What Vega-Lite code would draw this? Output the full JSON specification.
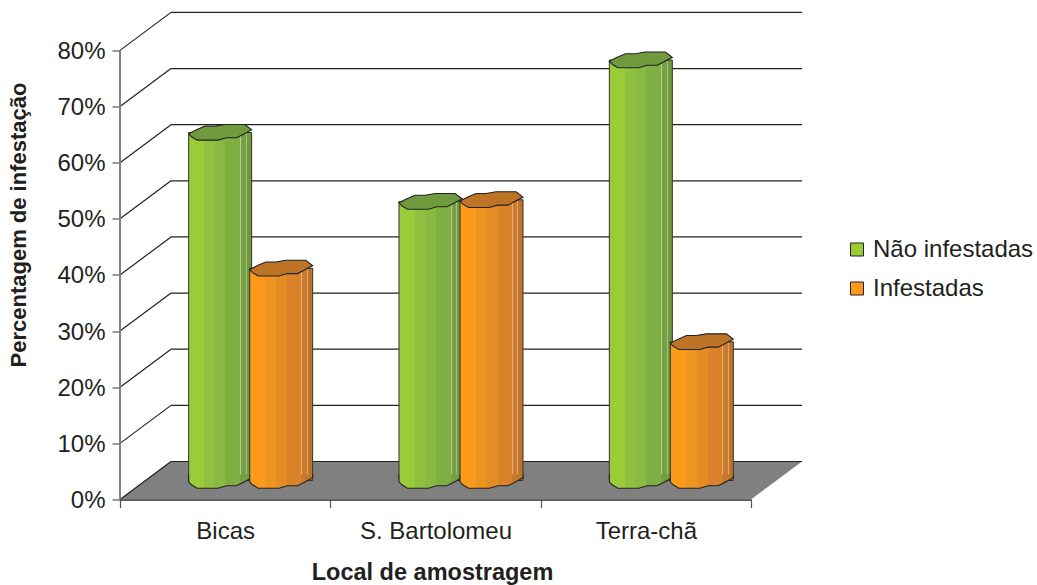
{
  "$schema": "https://vega.github.io/schema/vega-lite/v6.json",
  "width": 682,
  "height": 487,
  "autosize": {"type": "none"},
  "padding": {"left": 120, "top": 12.5, "right": 235, "bottom": 85.5},
  "background": "white",
  "config": {
    "view": {"stroke": null},
    "font": "Liberation Sans",
    "axis": {"labelFont": "Liberation Sans", "titleFont": "Liberation Sans", "labelColor": "#231f20", "titleColor": "#231f20", "grid": false}
  },
  "datasets": {
    "medicoes": [
      {"local": "Bicas", "serie": "Não infestadas", "valor": 62},
      {"local": "Bicas", "serie": "Infestadas", "valor": 37.8},
      {"local": "S. Bartolomeu", "serie": "Não infestadas", "valor": 49.7},
      {"local": "S. Bartolomeu", "serie": "Infestadas", "valor": 50},
      {"local": "Terra-chã", "serie": "Não infestadas", "valor": 74.9},
      {"local": "Terra-chã", "serie": "Infestadas", "valor": 24.7}
    ],
    "niveis": [
      {"nivel": 0}, {"nivel": 10}, {"nivel": 20}, {"nivel": 30}, {"nivel": 40},
      {"nivel": 50}, {"nivel": 60}, {"nivel": 70}, {"nivel": 80}
    ],
    "chao": [
      {"u": 0, "frente": 0, "fundo": 0},
      {"u": 0.2425, "frente": 0, "fundo": 6.75},
      {"u": 3, "frente": 0, "fundo": 6.75},
      {"u": 3.2425, "frente": 6.75, "fundo": 6.75}
    ]
  },
  "resolve": {"scale": {"x": "independent"}, "axis": {"x": "independent", "y": "independent"}},
  "layer": [
    {
      "data": {"name": "chao"},
      "mark": {"type": "area", "fill": "#808080", "stroke": null, "opacity": 1},
      "encoding": {
        "x": {"field": "u", "type": "quantitative", "axis": null, "scale": {"domain": [0, 3.2425], "nice": false}},
        "y": {
          "field": "frente", "type": "quantitative",
          "scale": {"domain": [0, 86.75], "nice": false},
          "axis": {
            "values": [0, 10, 20, 30, 40, 50, 60, 70, 80],
            "labelExpr": "datum.value + '%'",
            "labelFontSize": 24,
            "labelPadding": 7,
            "labelOffset": 1,
            "tickSize": 8,
            "tickColor": "#555555",
            "tickWidth": 1.2,
            "domain": false,
            "title": "Percentagem de infestação",
            "titleFontSize": 22,
            "titleFontWeight": "bold",
            "titleX": -90,
            "titleY": 212
          }
        },
        "y2": {"field": "fundo"}
      }
    },
    {
      "data": {"name": "niveis"},
      "mark": {"type": "rule", "stroke": "#222222", "strokeWidth": 1.2, "yOffset": -38},
      "encoding": {
        "x": {"datum": 0.2425, "type": "quantitative", "axis": null, "scale": {"domain": [0, 3.2425], "nice": false}},
        "x2": {"datum": 3.2425},
        "y": {"field": "nivel", "type": "quantitative", "axis": null}
      }
    },
    {
      "data": {"name": "niveis"},
      "mark": {"type": "rule", "stroke": "#222222", "strokeWidth": 1.2, "y2Offset": -38},
      "encoding": {
        "x": {"datum": 0, "type": "quantitative", "axis": null, "scale": {"domain": [0, 3.2425], "nice": false}},
        "x2": {"datum": 0.2425},
        "y": {"field": "nivel", "type": "quantitative", "axis": null},
        "y2": {"field": "nivel"}
      }
    },
    {
      "data": {"values": [{"base": 0, "topo": 80}]},
      "mark": {"type": "rule", "stroke": "#808080", "strokeWidth": 2},
      "encoding": {
        "x": {"datum": 0, "type": "quantitative", "axis": null, "scale": {"domain": [0, 3.2425], "nice": false}},
        "y": {"field": "base", "type": "quantitative", "axis": null},
        "y2": {"field": "topo"}
      }
    },
    {
      "data": {"name": "medicoes"},
      "mark": {"type": "rule", "opacity": 0},
      "encoding": {
        "x": {
          "field": "local", "type": "nominal", "sort": null,
          "scale": {"range": [0, 631], "paddingInner": 0, "paddingOuter": 0},
          "axis": {
            "orient": "bottom",
            "tickBand": "extent",
            "labelAngle": 0,
            "labelFontSize": 24,
            "labelPadding": 12,
            "tickSize": 8,
            "tickColor": "#555555",
            "tickWidth": 1.2,
            "domainColor": "#222222",
            "domainWidth": 1.4,
            "title": "Local de amostragem",
            "titleFontSize": 23.5,
            "titleFontWeight": "bold",
            "titlePadding": 17,
            "titleX": 312
          }
        }
      }
    },
    {
      "data": {"name": "medicoes"},
      "mark": {"type": "bar", "width": 63, "yOffset": -19, "y2Offset": -19},
      "encoding": {
        "x": {"field": "local", "type": "nominal", "sort": null, "axis": null, "scale": {"range": [25.5, 656.5], "paddingInner": 0.42, "paddingOuter": 0.21}},
        "xOffset": {"field": "serie", "type": "nominal", "sort": ["Não infestadas", "Infestadas"], "scale": {"domain": ["Não infestadas", "Infestadas"], "range": [0, 122]}},
        "y": {"field": "valor", "type": "quantitative", "axis": null},
        "y2": {"datum": 0},
        "color": {
          "field": "serie", "type": "nominal",
          "scale": {"domain": ["Não infestadas", "Infestadas"], "range": ["#99CC33", "#FF9919"]},
          "legend": {
            "title": null,
            "orient": "none",
            "legendX": 725,
            "legendY": 225,
            "symbolType": "square",
            "symbolSize": 169,
            "symbolStrokeColor": "#222222",
            "symbolStrokeWidth": 1,
            "labelFont": "Liberation Sans",
            "labelFontSize": 24,
            "labelColor": "#231f20",
            "labelOffset": 4,
            "labelLimit": 300,
            "rowPadding": 15
          }
        }
      }
    },
    {
      "data": {"name": "medicoes"},
      "transform": [{"filter": "datum.serie === 'Não infestadas'"}],
      "mark": {
        "type": "bar", "width": 63, "yOffset": -19, "y2Offset": -19, "stroke": "#333333", "strokeWidth": 1,
        "fill": {"gradient": "linear", "x1": 0, "y1": 0, "x2": 1, "y2": 0, "stops": [
          {"offset": 0, "color": "#9ACC3A"}, {"offset": 0.25, "color": "#9ACC3A"},
          {"offset": 0.25, "color": "#8FC040"}, {"offset": 0.42, "color": "#8FC040"},
          {"offset": 0.42, "color": "#88B942"}, {"offset": 0.58, "color": "#88B942"},
          {"offset": 0.58, "color": "#7FAE42"}, {"offset": 0.82, "color": "#7FAE42"},
          {"offset": 0.82, "color": "#B5CF8A"}, {"offset": 0.835, "color": "#B5CF8A"},
          {"offset": 0.835, "color": "#75A043"}, {"offset": 0.91, "color": "#75A043"},
          {"offset": 0.91, "color": "#A5C07A"}, {"offset": 0.925, "color": "#A5C07A"},
          {"offset": 0.925, "color": "#6F9A3E"}, {"offset": 1, "color": "#6F9A3E"}
        ]}
      },
      "encoding": {
        "x": {"field": "local", "type": "nominal", "sort": null, "axis": null, "scale": {"range": [25.5, 656.5], "paddingInner": 0.42, "paddingOuter": 0.21}},
        "xOffset": {"field": "serie", "type": "nominal", "scale": {"domain": ["Não infestadas", "Infestadas"], "range": [0, 122]}},
        "y": {"field": "valor", "type": "quantitative", "axis": null},
        "y2": {"datum": 0}
      }
    },
    {
      "data": {"name": "medicoes"},
      "transform": [{"filter": "datum.serie === 'Não infestadas'"}],
      "mark": {
        "type": "point", "filled": true, "opacity": 1, "size": 3969, "yOffset": -19, "stroke": "#222222", "strokeWidth": 1.1,
        "shape": "M-1,-0.2L-1,0.04L-0.91,0.137L-0.733,0.244L-0.067,0.244L0.2,0.168L0.517,0.168L0.727,0.063L1,-0.086L1,-0.2",
        "fill": {"gradient": "linear", "x1": 0, "y1": 0, "x2": 1, "y2": 0, "stops": [
          {"offset": 0, "color": "#9ACC3A"}, {"offset": 0.25, "color": "#9ACC3A"},
          {"offset": 0.25, "color": "#8FC040"}, {"offset": 0.42, "color": "#8FC040"},
          {"offset": 0.42, "color": "#88B942"}, {"offset": 0.58, "color": "#88B942"},
          {"offset": 0.58, "color": "#7FAE42"}, {"offset": 0.82, "color": "#7FAE42"},
          {"offset": 0.82, "color": "#75A043"}, {"offset": 1, "color": "#6F9A3E"}
        ]}
      },
      "encoding": {
        "x": {"field": "local", "type": "nominal", "sort": null, "axis": null, "scale": {"range": [25.5, 656.5], "paddingInner": 0.42, "paddingOuter": 0.21}},
        "xOffset": {"field": "serie", "type": "nominal", "scale": {"domain": ["Não infestadas", "Infestadas"], "range": [0, 122]}},
        "y": {"datum": 0, "type": "quantitative", "axis": null}
      }
    },
    {
      "data": {"name": "medicoes"},
      "transform": [{"filter": "datum.serie === 'Não infestadas'"}],
      "mark": {
        "type": "point", "filled": true, "opacity": 1, "size": 3969, "yOffset": -19, "fill": "#6F9A3E", "stroke": "#222222", "strokeWidth": 1.1,
        "shape": "M-1,0.04L-0.75,-0.086L-0.49,-0.2L-0.17,-0.2L0.146,-0.254L0.78,-0.254L1,-0.086L0.727,0.063L0.517,0.168L0.2,0.168L-0.067,0.244L-0.733,0.244L-0.91,0.137Z"
      },
      "encoding": {
        "x": {"field": "local", "type": "nominal", "sort": null, "axis": null, "scale": {"range": [25.5, 656.5], "paddingInner": 0.42, "paddingOuter": 0.21}},
        "xOffset": {"field": "serie", "type": "nominal", "scale": {"domain": ["Não infestadas", "Infestadas"], "range": [0, 122]}},
        "y": {"field": "valor", "type": "quantitative", "axis": null}
      }
    },
    {
      "data": {"name": "medicoes"},
      "transform": [{"filter": "datum.serie === 'Infestadas'"}],
      "mark": {
        "type": "bar", "width": 63, "yOffset": -19, "y2Offset": -19, "stroke": "#333333", "strokeWidth": 1,
        "fill": {"gradient": "linear", "x1": 0, "y1": 0, "x2": 1, "y2": 0, "stops": [
          {"offset": 0, "color": "#FC9A1B"}, {"offset": 0.25, "color": "#FC9A1B"},
          {"offset": 0.25, "color": "#EE9421"}, {"offset": 0.42, "color": "#EE9421"},
          {"offset": 0.42, "color": "#E58C25"}, {"offset": 0.6, "color": "#E58C25"},
          {"offset": 0.6, "color": "#D98229"}, {"offset": 0.82, "color": "#D98229"},
          {"offset": 0.82, "color": "#E5B27C"}, {"offset": 0.835, "color": "#E5B27C"},
          {"offset": 0.835, "color": "#CB7B2B"}, {"offset": 0.91, "color": "#CB7B2B"},
          {"offset": 0.91, "color": "#DDAA78"}, {"offset": 0.925, "color": "#DDAA78"},
          {"offset": 0.925, "color": "#BD7426"}, {"offset": 1, "color": "#BD7426"}
        ]}
      },
      "encoding": {
        "x": {"field": "local", "type": "nominal", "sort": null, "axis": null, "scale": {"range": [25.5, 656.5], "paddingInner": 0.42, "paddingOuter": 0.21}},
        "xOffset": {"field": "serie", "type": "nominal", "scale": {"domain": ["Não infestadas", "Infestadas"], "range": [0, 122]}},
        "y": {"field": "valor", "type": "quantitative", "axis": null},
        "y2": {"datum": 0}
      }
    },
    {
      "data": {"name": "medicoes"},
      "transform": [{"filter": "datum.serie === 'Infestadas'"}],
      "mark": {
        "type": "point", "filled": true, "opacity": 1, "size": 3969, "yOffset": -19, "stroke": "#222222", "strokeWidth": 1.1,
        "shape": "M-1,-0.2L-1,0.04L-0.91,0.137L-0.733,0.244L-0.067,0.244L0.2,0.168L0.517,0.168L0.727,0.063L1,-0.086L1,-0.2",
        "fill": {"gradient": "linear", "x1": 0, "y1": 0, "x2": 1, "y2": 0, "stops": [
          {"offset": 0, "color": "#FC9A1B"}, {"offset": 0.25, "color": "#FC9A1B"},
          {"offset": 0.25, "color": "#EE9421"}, {"offset": 0.42, "color": "#EE9421"},
          {"offset": 0.42, "color": "#E58C25"}, {"offset": 0.6, "color": "#E58C25"},
          {"offset": 0.6, "color": "#D98229"}, {"offset": 0.82, "color": "#D98229"},
          {"offset": 0.82, "color": "#CB7B2B"}, {"offset": 1, "color": "#BD7426"}
        ]}
      },
      "encoding": {
        "x": {"field": "local", "type": "nominal", "sort": null, "axis": null, "scale": {"range": [25.5, 656.5], "paddingInner": 0.42, "paddingOuter": 0.21}},
        "xOffset": {"field": "serie", "type": "nominal", "scale": {"domain": ["Não infestadas", "Infestadas"], "range": [0, 122]}},
        "y": {"datum": 0, "type": "quantitative", "axis": null}
      }
    },
    {
      "data": {"name": "medicoes"},
      "transform": [{"filter": "datum.serie === 'Infestadas'"}],
      "mark": {
        "type": "point", "filled": true, "opacity": 1, "size": 3969, "yOffset": -19, "fill": "#BD7426", "stroke": "#222222", "strokeWidth": 1.1,
        "shape": "M-1,0.04L-0.75,-0.086L-0.49,-0.2L-0.17,-0.2L0.146,-0.254L0.78,-0.254L1,-0.086L0.727,0.063L0.517,0.168L0.2,0.168L-0.067,0.244L-0.733,0.244L-0.91,0.137Z"
      },
      "encoding": {
        "x": {"field": "local", "type": "nominal", "sort": null, "axis": null, "scale": {"range": [25.5, 656.5], "paddingInner": 0.42, "paddingOuter": 0.21}},
        "xOffset": {"field": "serie", "type": "nominal", "scale": {"domain": ["Não infestadas", "Infestadas"], "range": [0, 122]}},
        "y": {"field": "valor", "type": "quantitative", "axis": null}
      }
    }
  ]
}
